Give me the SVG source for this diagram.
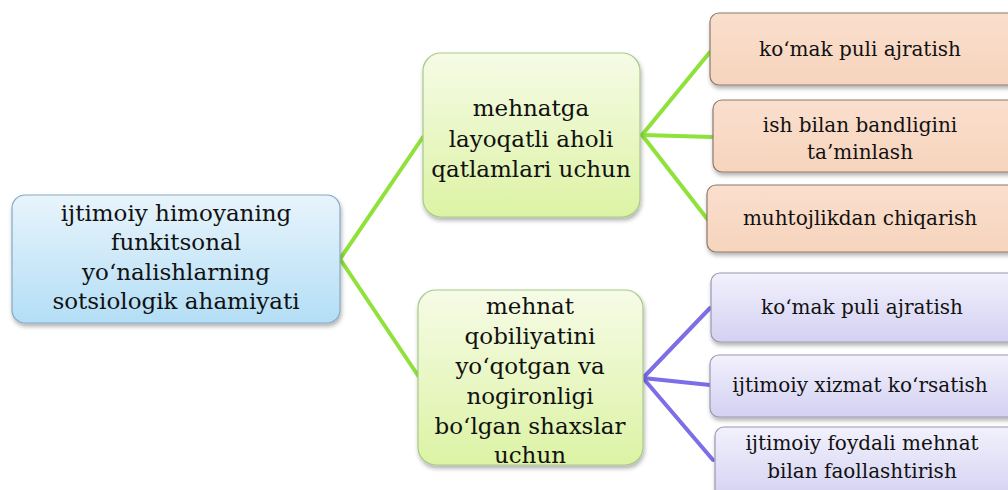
<svg xmlns="http://www.w3.org/2000/svg" width="1008" height="490" viewBox="0 0 1008 490">
<defs>
<linearGradient id="gBlue" x1="0" y1="0" x2="0" y2="1"><stop offset="0" stop-color="#e8f4fb"/><stop offset="1" stop-color="#b3def6"/></linearGradient>
<linearGradient id="gGreen" x1="0" y1="0" x2="0" y2="1"><stop offset="0" stop-color="#f6fbe6"/><stop offset="1" stop-color="#dcf3a4"/></linearGradient>
<linearGradient id="gOrange" x1="0" y1="0" x2="0" y2="1"><stop offset="0" stop-color="#fadfcd"/><stop offset="1" stop-color="#f6d4bd"/></linearGradient>
<linearGradient id="gPurple" x1="0" y1="0" x2="0" y2="1"><stop offset="0" stop-color="#f2f1fc"/><stop offset="1" stop-color="#d3d0f2"/></linearGradient>
<filter id="sh" x="-10%" y="-10%" width="120%" height="130%"><feDropShadow dx="1" dy="3" stdDeviation="2" flood-color="#000" flood-opacity="0.3"/></filter>
</defs>
<style>
.blue{fill:url(#gBlue);stroke:#86a9c2;stroke-width:1.2;filter:url(#sh)}
.green{fill:url(#gGreen);stroke:#a9c98a;stroke-width:1.2;filter:url(#sh)}
.orange{fill:url(#gOrange);stroke:#8d7a6e;stroke-width:1.2;filter:url(#sh)}
.purple{fill:url(#gPurple);stroke:#9a98b0;stroke-width:1.2;filter:url(#sh)}
.cg{stroke:#8ee23a;stroke-width:4;fill:none;stroke-linecap:round;stroke-linejoin:round}
.cp{stroke:#7b6ee6;stroke-width:4;fill:none;stroke-linecap:round;stroke-linejoin:round}
</style>
<rect width="1008" height="490" fill="#fff"/>
<g id="connectors">
<polyline class="cg" points="423,137 340,259 419,377"/>
<polyline class="cg" points="710,52 642,135 708,220"/>
<line class="cg" x1="642" y1="135" x2="712" y2="137"/>
<polyline class="cp" points="710,308 643,378 713,460"/>
<line class="cp" x1="643" y1="378" x2="710" y2="385"/>
</g>
<g font-family="DejaVu Serif, serif" text-anchor="middle" fill="#111">
<g id="root">
<rect class="blue" x="12" y="195" width="328" height="128" rx="13"/>
<text font-size="23" fill="#111"><tspan x="176" y="221">ijtimoiy himoyaning</tspan><tspan x="176" y="250">funkitsonal</tspan><tspan x="176" y="280">yo‘nalishlarning</tspan><tspan x="176" y="309">sotsiologik ahamiyati</tspan></text>
</g>
<g id="n_able">
<rect class="green" x="423" y="53" width="217" height="164" rx="18"/>
<text font-size="23" fill="#111"><tspan x="531" y="116">mehnatga</tspan><tspan x="531" y="147">layoqatli aholi</tspan><tspan x="531" y="177">qatlamlari uchun</tspan></text>
</g>
<g id="n_disabled">
<rect class="green" x="418" y="290" width="225" height="175" rx="18"/>
<text font-size="23" fill="#111"><tspan x="530" y="314">mehnat</tspan><tspan x="530" y="344">qobiliyatini</tspan><tspan x="530" y="374">yo‘qotgan va</tspan><tspan x="530" y="404">nogironligi</tspan><tspan x="530" y="434">bo‘lgan shaxslar</tspan><tspan x="530" y="463">uchun</tspan></text>
</g>
<g id="o1">
<rect class="orange" x="710" y="13" width="310" height="72" rx="9"/>
<text font-size="20" fill="#111" x="860" y="56">ko‘mak puli ajratish</text>
</g>
<g id="o2">
<rect class="orange" x="713" y="100" width="310" height="72" rx="9"/>
<text font-size="20" fill="#111"><tspan x="860" y="132">ish bilan bandligini</tspan><tspan x="860" y="159">ta’minlash</tspan></text>
</g>
<g id="o3">
<rect class="orange" x="707" y="185" width="310" height="67" rx="9"/>
<text font-size="20" fill="#111" x="860" y="225">muhtojlikdan chiqarish</text>
</g>
<g id="p1">
<rect class="purple" x="711" y="273" width="310" height="69" rx="9"/>
<text font-size="20" fill="#111" x="862" y="314">ko‘mak puli  ajratish</text>
</g>
<g id="p2">
<rect class="purple" x="710" y="355" width="310" height="62" rx="9"/>
<text font-size="20" fill="#111" x="860" y="392">ijtimoiy xizmat ko‘rsatish</text>
</g>
<g id="p3">
<rect class="purple" x="715" y="427" width="310" height="75" rx="9"/>
<text font-size="20" fill="#111"><tspan x="862" y="450">ijtimoiy foydali mehnat</tspan><tspan x="862" y="478">bilan faollashtirish</tspan></text>
</g>
</g>
</svg>
